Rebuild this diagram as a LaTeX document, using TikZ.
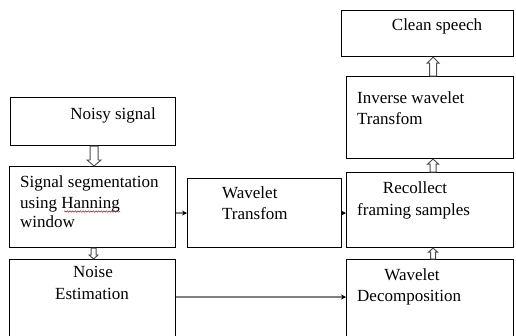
\documentclass[tikz,border=0pt]{standalone}
\usepackage{fontspec}
\setmainfont{Liberation Serif}
\usetikzlibrary{calc,arrows.meta,decorations.pathmorphing}

\begin{document}
\begin{tikzpicture}[x=1pt,y=-1pt,
  box/.style={draw=black,line width=1.1pt,fill=white,inner sep=0pt,anchor=north west},
  lbl/.style={inner sep=0pt,font=\fontsize{17}{20}\selectfont},
  % hollow vertical block arrow: shaft half-width, head half-width, head length
  hollow/.style n args={3}{draw=black!70,line width=0.9pt,fill=white,
    to path={let \p1=(\tikztostart),\p2=(\tikztotarget),
      \n1={ifthenelse(\y2>\y1,1,-1)} in
      (\x1-#1,\y1) -- (\x1-#1,\y2-\n1*#3) -- (\x1-#2,\y2-\n1*#3) -- (\x1,\y2)
      -- (\x1+#2,\y2-\n1*#3) -- (\x1+#1,\y2-\n1*#3) -- (\x1+#1,\y1) -- cycle}},
  flow/.style={draw=black!50,line width=1.4pt,-{Stealth[black,length=5pt,width=5pt]}}]
\useasboundingbox (0,0) rectangle (516,335);
\clip (0,0) rectangle (516,335);

% process boxes
\node[box,minimum width=172,minimum height=46] (clean)  at (341,10)  {};
\node[box,minimum width=167,minimum height=82] (inv)    at (346,76)  {};
\node[box,minimum width=167,minimum height=75] (recol)  at (346,172) {};
\node[box,minimum width=167,minimum height=110](decomp) at (346,259) {};
\node[box,minimum width=165,minimum height=48] (noisy)  at (10,97)   {};
\node[box,minimum width=166,minimum height=81] (seg)    at (9,166)   {};
\node[box,minimum width=166,minimum height=110](noise)  at (9,259)   {};
\node[box,minimum width=154,minimum height=69] (wt)     at (187,178) {};

% labels
\node[lbl,anchor=base] (tclean) at (437,30) {Clean speech};
\node[lbl,anchor=base] (tnoisy) at (113,119) {Noisy signal};
\node[lbl,anchor=base west] (tseg1) at (20,187) {Signal segmentation};
\node[lbl,anchor=base west] (tseg2) at (20,208) {using Hanning};
\node[lbl,anchor=base west] (tseg3) at (20,227) {window};
\node[lbl,anchor=base] (tnoise1) at (93,277) {Noise};
\node[lbl,anchor=base] (tnoise2) at (92,299) {Estimation};
\node[lbl,anchor=base west] (twt1) at (222,198) {Wavelet};
\node[lbl,anchor=base west] (twt2) at (222,219) {Transfom};
\node[lbl,anchor=base west] (tinv1) at (357,103) {Inverse wavelet};
\node[lbl,anchor=base west] (tinv2) at (357,124) {Transfom};
\node[lbl,anchor=base] (trec1) at (415,193) {Recollect};
\node[lbl,anchor=base west] (trec2) at (357,215) {framing samples};
\node[lbl,anchor=base] (tdec1) at (412,280) {Wavelet};
\node[lbl,anchor=base west] (tdec2) at (357,301) {Decomposition};

% spell-check squiggle under the window name
\draw[red!85!black,line width=0.5pt,decorate,
  decoration={snake,amplitude=0.7pt,segment length=2.6pt}]
  ([xshift=-56pt,yshift=-3.5pt]tseg2.base east) -- ([yshift=-3.5pt]tseg2.base east);

% hollow block arrows between stacked boxes
\draw[hollow={4pt}{7pt}{6pt}] ([xshift=1pt]noisy.south) to ([xshift=1pt]seg.north);
\draw[hollow={2.5pt}{4.5pt}{4pt}] ([xshift=1pt]seg.south) to ([xshift=1pt]noise.north);
\draw[hollow={2.5pt}{4.5pt}{4pt}] ([xshift=3pt]decomp.north) to ([xshift=3pt]recol.south);
\draw[hollow={3pt}{5.5pt}{5pt}] ([xshift=3pt]recol.north) to ([xshift=3pt]inv.south);
\draw[hollow={3.5pt}{6pt}{6pt}] ([xshift=3pt]inv.north) to ([xshift=3pt]clean.south);

% signal flow
\draw[flow] (seg.east |- wt.west) -- (wt.west);
\draw[flow] (wt.east) -- (wt.east -| recol.west);
\draw[flow] ([yshift=-38pt]noise.north east) -- ([yshift=-38pt]noise.north east -| decomp.west);
\end{tikzpicture}
\end{document}
